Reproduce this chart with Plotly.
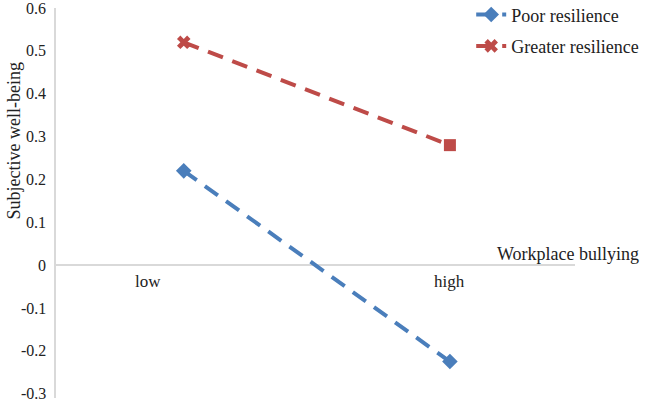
import plotly.graph_objects as go

# data
categories = ["low", "high"]
poor_resilience = [0.22, -0.225]
greater_resilience = [0.52, 0.28]
y_ticks = [0.6, 0.5, 0.4, 0.3, 0.2, 0.1, 0, -0.1, -0.2, -0.3]

BLUE = "#4a7ebb"
RED = "#be4b48"
AXIS = "#d9d9d9"
FONT = "Liberation Serif"
TEXT = "#222"

fig = go.Figure()

fig.add_trace(go.Scatter(
    x=categories, y=poor_resilience, name="Poor resilience",
    mode="lines+markers", legendgroup="a",
    line=dict(color=BLUE, width=4, dash="16px,10px"),
    marker=dict(symbol="diamond", size=12, color=BLUE),
))
fig.add_trace(go.Scatter(
    x=categories, y=greater_resilience, name="Greater resilience",
    mode="lines+markers", legendgroup="b",
    line=dict(color=RED, width=4, dash="16px,10px"),
    marker=dict(symbol=["x", "square"], size=12, color=RED),
))

# category labels (placed like the original, not centred under the points)
label_shift = [-36, 0]
for cat, dx in zip(categories, label_shift):
    fig.add_annotation(x=cat, y=0, xref="x", yref="y", text=cat, showarrow=False,
                       xshift=dx, yshift=-16, font=dict(size=17, color=TEXT, family=FONT))

# y tick labels as annotations so the end labels are not dropped at the edges
for v in y_ticks:
    fig.add_annotation(x=0, y=v, xref="paper", yref="y", text=f"{v:g}",
                       xanchor="right", yanchor="middle", xshift=-8, showarrow=False,
                       font=dict(size=16, color=TEXT, family=FONT))

fig.add_annotation(x=-0.081, y=0.66, xref="paper", yref="paper",
                   xanchor="center", yanchor="middle",
                   text="Subjective well-being", textangle=-90, showarrow=False,
                   font=dict(size=18, color=TEXT, family=FONT))
fig.add_annotation(x=1.127, y=0.37, xref="paper", yref="paper", xanchor="right",
                   text="Workplace bullying", showarrow=False,
                   font=dict(size=18, color=TEXT, family=FONT))

fig.update_layout(
    width=649, height=402,
    paper_bgcolor="white", plot_bgcolor="white",
    font=dict(family=FONT, size=16, color=TEXT),
    margin=dict(l=56, r=74, t=8, b=4, autoexpand=False),
    showlegend=True,
    legend=dict(x=0.80, y=1.03, xanchor="left", yanchor="top",
                traceorder="grouped", tracegroupgap=5,
                font=dict(size=18, family=FONT), bgcolor="rgba(0,0,0,0)"),
    xaxis=dict(type="category", range=[-0.48, 1.47], showticklabels=False,
               showline=False, showgrid=False, zeroline=False, ticks=""),
    yaxis=dict(range=[-0.31, 0.6], showticklabels=False,
               showline=True, linecolor=AXIS, linewidth=1.5, automargin=False,
               showgrid=False, zeroline=True, zerolinecolor=AXIS, zerolinewidth=1.5,
               ticks=""),
)

# drop the default page margin so the figure sits at the window's corner
fig.write_html("out.html", config={"displayModeBar": False},
               post_script="document.body.style.margin='0';")
